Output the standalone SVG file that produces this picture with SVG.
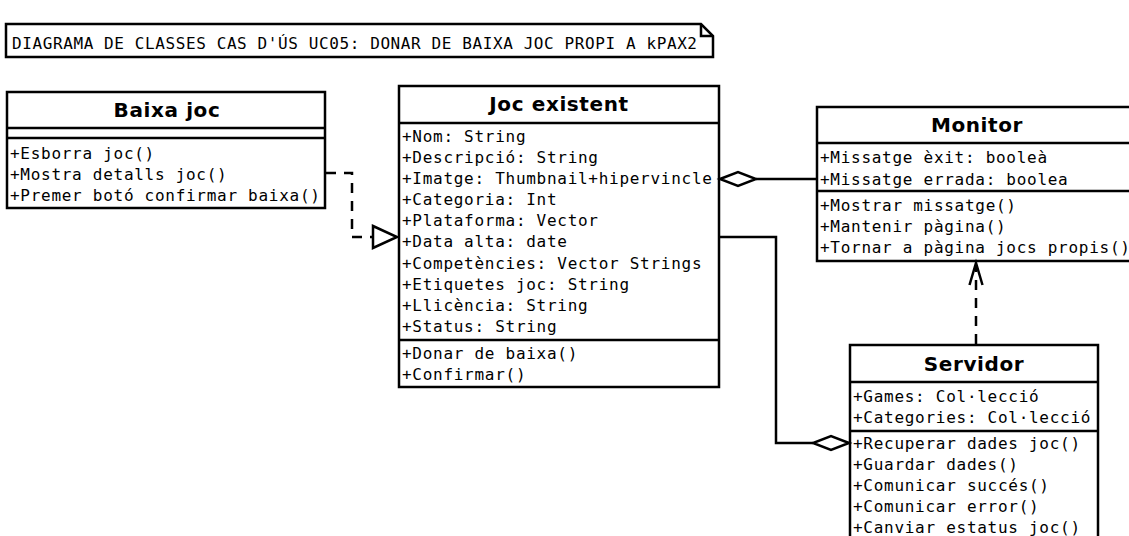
<svg xmlns="http://www.w3.org/2000/svg" width="1129" height="536" viewBox="0 0 1129 536">
<style>
.box{fill:#fff;stroke:#000;stroke-width:2.5}
.sep{stroke:#000;stroke-width:2.5;fill:none}
.t{font-family:"DejaVu Sans Mono","Liberation Mono",monospace;font-size:16px;letter-spacing:0.72px;fill:#000}
.h{font-family:"DejaVu Sans","Liberation Sans",sans-serif;font-size:20px;font-weight:bold;letter-spacing:0.6px;fill:#000;text-anchor:middle}
.ln{stroke:#000;stroke-width:2.5;fill:none}
.dash{stroke:#000;stroke-width:2.5;fill:none;stroke-dasharray:10 8}
.dia{fill:#fff;stroke:#000;stroke-width:2.5}
</style>
<rect width="1129" height="536" fill="#fff"/>
<g id="note">
<path class="box" d="M6,24 H701 L713,36 V57 H6 Z"/>
<path class="sep" d="M701,24 V36 H713"/>
<text class="t" x="12" y="49" style="letter-spacing:0.6px">DIAGRAMA DE CLASSES CAS D'ÚS UC05: DONAR DE BAIXA JOC PROPI A kPAX2</text>
</g>
<g id="baixa-joc">
<rect class="box" x="7" y="92" width="318" height="116"/>
<line class="sep" x1="7" y1="128" x2="325" y2="128"/>
<line class="sep" x1="7" y1="138" x2="325" y2="138"/>
<text class="h" x="167" y="117">Baixa joc</text>
<text class="t" x="10" y="159">+Esborra joc()</text>
<text class="t" x="10" y="180">+Mostra detalls joc()</text>
<text class="t" x="10" y="201">+Premer botó confirmar baixa()</text>
</g>
<g id="joc-existent">
<rect class="box" x="399" y="86" width="320" height="301"/>
<line class="sep" x1="399" y1="123" x2="719" y2="123"/>
<line class="sep" x1="399" y1="340" x2="719" y2="340"/>
<text class="h" x="559" y="111">Joc existent</text>
<text class="t" x="402" y="142">+Nom: String</text>
<text class="t" x="402" y="163">+Descripció: String</text>
<text class="t" x="402" y="184">+Imatge: Thumbnail+hipervincle</text>
<text class="t" x="402" y="205">+Categoria: Int</text>
<text class="t" x="402" y="226">+Plataforma: Vector</text>
<text class="t" x="402" y="247">+Data alta: date</text>
<text class="t" x="402" y="269">+Competències: Vector Strings</text>
<text class="t" x="402" y="290">+Etiquetes joc: String</text>
<text class="t" x="402" y="311">+Llicència: String</text>
<text class="t" x="402" y="332">+Status: String</text>
<text class="t" x="402" y="359">+Donar de baixa()</text>
<text class="t" x="402" y="380">+Confirmar()</text>
</g>
<g id="monitor">
<rect class="box" x="817" y="107" width="322" height="154"/>
<line class="sep" x1="817" y1="143" x2="1139" y2="143"/>
<line class="sep" x1="817" y1="191" x2="1139" y2="191"/>
<text class="h" x="977" y="132">Monitor</text>
<text class="t" x="820" y="163">+Missatge èxit: booleà</text>
<text class="t" x="820" y="185">+Missatge errada: boolea</text>
<text class="t" x="820" y="211">+Mostrar missatge()</text>
<text class="t" x="820" y="232">+Mantenir pàgina()</text>
<text class="t" x="820" y="253">+Tornar a pàgina jocs propis()</text>
</g>
<g id="servidor">
<rect class="box" x="850" y="345" width="248" height="210"/>
<line class="sep" x1="850" y1="382" x2="1098" y2="382"/>
<line class="sep" x1="850" y1="431" x2="1098" y2="431"/>
<text class="h" x="974" y="371">Servidor</text>
<text class="t" x="853" y="402">+Games: Col·lecció</text>
<text class="t" x="853" y="423">+Categories: Col·lecció</text>
<text class="t" x="853" y="449">+Recuperar dades joc()</text>
<text class="t" x="853" y="470">+Guardar dades()</text>
<text class="t" x="853" y="491">+Comunicar succés()</text>
<text class="t" x="853" y="512">+Comunicar error()</text>
<text class="t" x="853" y="533">+Canviar estatus joc()</text>
</g>
<g id="connectors">
<path class="dash" d="M326,173 H352 V237 H373"/>
<path class="dia" d="M373,226 L397,237 L373,248 Z"/>
<line class="ln" x1="817" y1="179" x2="756" y2="179"/>
<path class="dia" d="M720,179 L738,172 L756,179 L738,186 Z"/>
<path class="ln" d="M719,237 H776 V443 H813"/>
<path class="dia" d="M849,443 L831,436 L813,443 L831,450 Z"/>
<line class="dash" x1="976" y1="344" x2="976" y2="265"/>
<path class="ln" d="M969.5,285 L976,263 L982.5,285"/>
</g>
</svg>
